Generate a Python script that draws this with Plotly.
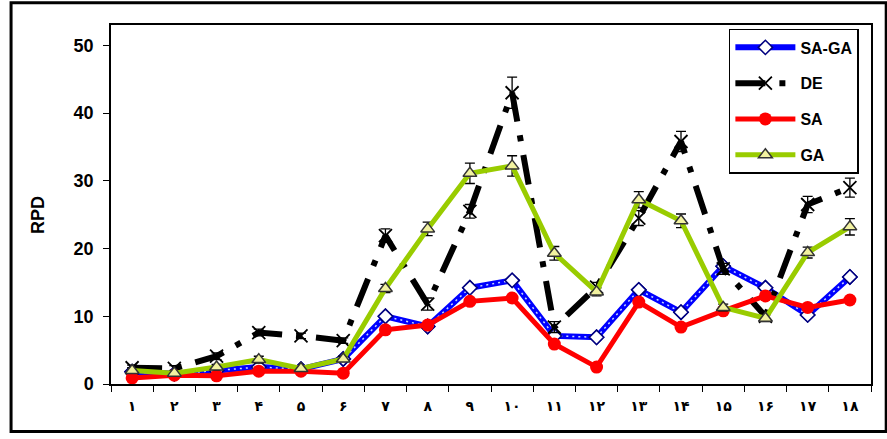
import plotly.graph_objects as go

categories = ["۱", "۲", "۳", "۴", "۵", "۶", "۷", "۸", "۹", "۱۰",
              "۱۱", "۱۲", "۱۳", "۱۴", "۱۵", "۱۶", "۱۷", "۱۸"]

sa_ga = [1.8, 1.5, 2.0, 2.5, 2.2, 3.7, 10.0, 8.5, 14.2, 15.3, 7.1, 6.9, 13.9, 10.6, 17.4, 14.2, 10.2, 15.8]
de = [2.4, 2.3, 4.1, 7.6, 7.1, 6.4, 21.9, 11.8, 25.5, 43.0, 8.4, 14.3, 24.5, 35.8, 17.0, 10.0, 26.5, 29.0]
de_err = [0.4, 0.4, 0.5, 0.5, 0.4, 0.4, 1.0, 0.9, 1.0, 2.3, 0.8, 0.7, 1.1, 1.5, 0.8, 0.5, 1.2, 1.4]
sa = [0.9, 1.3, 1.2, 1.9, 1.9, 1.6, 8.0, 8.7, 12.2, 12.7, 5.9, 2.5, 12.1, 8.4, 10.8, 13.0, 11.3, 12.4]
ga = [2.0, 1.6, 2.5, 3.6, 2.3, 3.7, 14.1, 22.9, 31.1, 32.2, 19.3, 13.6, 27.2, 24.1, 11.3, 9.7, 19.4, 23.2]
ga_err = [0.4, 0.4, 0.4, 0.5, 0.4, 0.4, 0.6, 1.0, 1.5, 1.5, 1.0, 0.6, 1.2, 1.0, 0.5, 0.5, 0.8, 1.2]

FONT = "Liberation Sans, Arial, sans-serif"

fig = go.Figure()

fig.add_trace(go.Scatter(
    x=categories, y=sa_ga, name="SA-GA", mode="lines+markers",
    legendgroup="g1",
    line=dict(color="#0000ff", width=6),
    marker=dict(symbol="diamond", size=11, color="white", line=dict(color="#000080", width=1.5)),
))
fig.add_trace(go.Scatter(
    x=categories, y=sa_ga, name="SA-GA", mode="lines", showlegend=False,
    legendgroup="g1", hoverinfo="skip",
    line=dict(color="#c8d8ff", width=1.5, dash="2px,4px"),
))
fig.add_trace(go.Scatter(
    x=categories, y=sa_ga, mode="markers", showlegend=False,
    legendgroup="g1", hoverinfo="skip",
    marker=dict(symbol="diamond", size=11, color="white", line=dict(color="#000080", width=1.5)),
))
fig.add_trace(go.Scatter(
    x=categories, y=de, name="DE", mode="lines+markers",
    legendgroup="g2",
    line=dict(color="black", width=6, dash="30px,14px,6px,14px"),
    marker=dict(symbol="x-thin-open", size=13, color="black", line=dict(color="black", width=1.8)),
    error_y=dict(type="data", array=de_err, visible=True, color="black", thickness=1.3, width=5),
))
fig.add_trace(go.Scatter(
    x=categories, y=sa, name="SA", mode="lines+markers",
    legendgroup="g3",
    line=dict(color="#ff0000", width=5),
    marker=dict(symbol="circle", size=13, color="#ff0000"),
))
fig.add_trace(go.Scatter(
    x=categories, y=ga, name="GA", mode="lines+markers",
    legendgroup="g4",
    line=dict(color="#99cc00", width=5),
    marker=dict(symbol="triangle-up", size=12, color="#f2f2a0", line=dict(color="#333333", width=1.5)),
    error_y=dict(type="data", array=ga_err, visible=True, color="black", thickness=1.3, width=5),
))

fig.update_layout(
    width=887, height=439,
    margin=dict(l=111, r=16, t=25, b=55),
    paper_bgcolor="white", plot_bgcolor="white",
    font=dict(family=FONT, color="black", size=14),
    showlegend=True,
    legend=dict(
        x=0.813, y=0.989, xanchor="left", yanchor="top",
        bgcolor="white", bordercolor="black", borderwidth=1.5,
        font=dict(family=FONT, size=16, color="black", weight="bold"),
        traceorder="grouped", tracegroupgap=12, itemwidth=60,
        entrywidth=140, entrywidthmode="pixels",
    ),
    xaxis=dict(
        type="category", range=[-0.5, 17.5],
        tickson="boundaries", ticks="outside", ticklen=6, tickcolor="black",
        showline=True, linecolor="black", linewidth=1.5, mirror=True,
        showgrid=False, zeroline=False, ticklabelstandoff=8,
        tickfont=dict(family="DejaVu Sans, Noto Sans, sans-serif", size=14, color="black", weight="bold"),
    ),
    yaxis=dict(
        range=[0, 53], tickvals=[0, 10, 20, 30, 40, 50],
        ticks="outside", ticklen=6, tickcolor="black",
        showline=True, linecolor="black", linewidth=1.5, mirror=True,
        showgrid=False, zeroline=False, ticklabelstandoff=6,
        tickfont=dict(family=FONT, size=18, color="black", weight="bold"),
    ),
    annotations=[dict(
        text="RPD", xref="paper", yref="paper", x=-0.096, y=0.471,
        xanchor="center", yanchor="middle", textangle=-90, showarrow=False,
        font=dict(family=FONT, size=18, color="black", weight="bold"),
    )],
    shapes=[dict(
        type="rect", xref="paper", yref="paper",
        x0=-0.1315, x1=1.02, y0=-0.1325, y1=1.062,
        line=dict(color="black", width=3), fillcolor="rgba(0,0,0,0)", layer="above",
    )],
)

fig.write_html("out.html", config={"displayModeBar": False},
               post_script="document.body.style.margin='0';document.body.style.overflow='hidden';")
